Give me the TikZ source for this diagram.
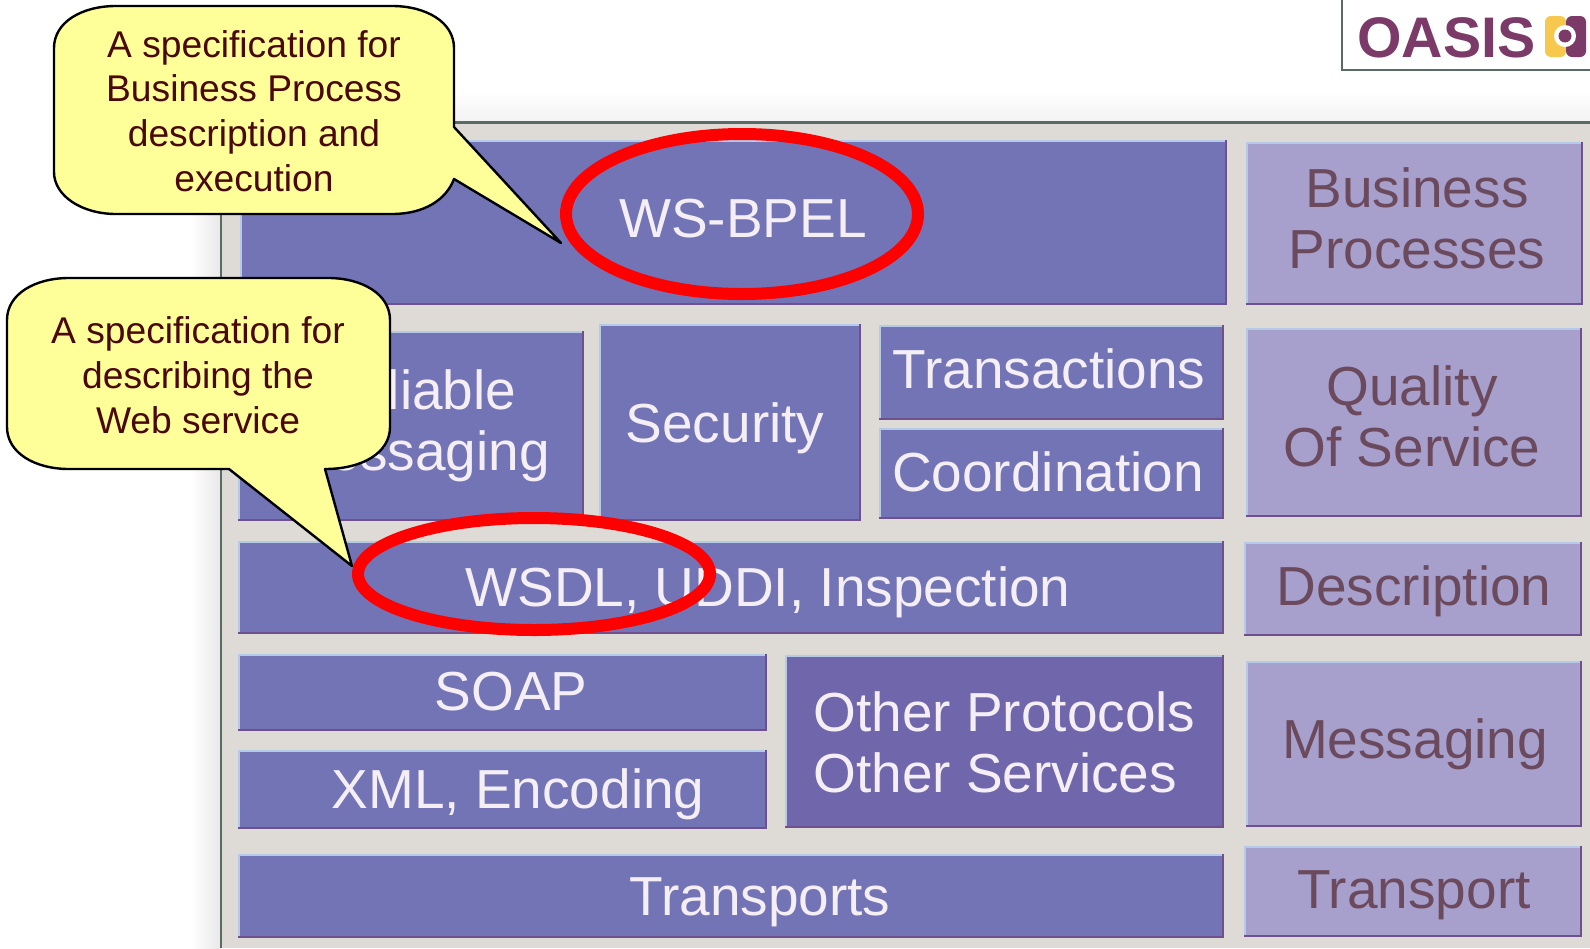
\documentclass[tikz,border=0pt]{standalone}
\usepackage{fontspec}
\setmainfont{Liberation Sans}
\usetikzlibrary{shapes.geometric}
\definecolor{panelc}{HTML}{DEDAD6}
\definecolor{darkc}{HTML}{7274B6}
\definecolor{lightc}{HTML}{A8A0CC}
\definecolor{otherc}{HTML}{7066AC}
\definecolor{hic}{HTML}{B4CAE6}
\definecolor{loc}{HTML}{6F4F8C}
\definecolor{wtext}{HTML}{F5EFF5}
\definecolor{ptext}{HTML}{6B4A5E}
\definecolor{ctext}{HTML}{4A0808}
\definecolor{oasisc}{HTML}{7B3A68}
\definecolor{oasisy}{HTML}{F7C84E}
\definecolor{edgec}{HTML}{5A6A66}
\definecolor{callc}{HTML}{FFFF99}
\newcommand{\bevelbox}[5]{% x1 y1 x2 y2 fill
  \fill[#5] (#1,#2) rectangle (#3,#4);
  \draw[hic,line width=1.2pt] (#1+1,#4) -- (#1+1,#2+1) -- (#3,#2+1);
  \draw[loc,line width=1.2pt] (#1,#4-1) -- (#3-1,#4-1) -- (#3-1,#2);
}
\tikzset{
  x=0.5pt,y=-0.5pt,
  boxtext/.style={font=\fontsize{27.5}{30.6}\selectfont,align=center,inner sep=0pt},
  onDark/.style={boxtext,text=wtext},
  onLight/.style={boxtext,text=ptext},
  calltext/.style={font=\fontsize{18.6}{22.4}\selectfont,align=center,text=ctext,inner sep=0pt},
  callout/.style={fill=callc,draw=black,line width=1.2pt,line join=round},
  redring/.style={shape=ellipse,draw=red,line width=6pt,inner sep=0pt,fill=none},
}
\begin{document}
\begin{tikzpicture}
\useasboundingbox (0,0) rectangle (1590,948);
\clip (0,0) rectangle (1590,948);
\fill[white] (0,0) rectangle (1590,948);
% panel shadow
\shade[left color=white,right color=black!9] (190,122) rectangle (221,948);
\shade[top color=white,bottom color=black!5] (221,92) rectangle (1590,122);
% panel
\fill[panelc] (221,122) rectangle (1590,948);
\draw[edgec,line width=1.2pt] (221,948) -- (221,122.5) -- (1590,122.5);
% logo
\draw[edgec,line width=1.2pt] (1342,0) -- (1342,70) -- (1590,70);
\node[anchor=base west,inner sep=0pt,font=\fontsize{28.6}{28}\selectfont\bfseries,text=oasisc] (oasis) at (1357,57) {OASIS};
\fill[oasisy,rounded corners=3pt] (1545,16) rectangle (1566,57);
\fill[oasisc,rounded corners=3pt] (1566,16) rectangle (1586,57);
\fill[white] (1565,36) circle[radius=11];
\fill[oasisc] (1565,36) circle[radius=6.5];
% boxes
\bevelbox{240}{140}{1227}{305}{darkc}
\bevelbox{1246}{142}{1583}{305}{lightc}
\bevelbox{238}{331}{584}{521}{darkc}
\bevelbox{599}{324}{861}{521}{darkc}
\bevelbox{879}{325}{1224}{420}{darkc}
\bevelbox{879}{428}{1224}{519}{darkc}
\bevelbox{1246}{328}{1582}{517}{lightc}
\bevelbox{238}{541}{1224}{634}{darkc}
\bevelbox{1244}{542}{1582}{636}{lightc}
\bevelbox{238}{654}{767}{731}{darkc}
\bevelbox{238}{750}{767}{829}{darkc}
\bevelbox{785}{655}{1224}{828}{otherc}
\bevelbox{1246}{661}{1582}{827}{lightc}
\bevelbox{238}{854}{1224}{938}{darkc}
\bevelbox{1244}{846}{1582}{937}{lightc}
% box texts
\node[onDark] (bpel) at (743,219) {WS-BPEL};
\node[onLight] (bizproc) at (1417,218) {Business\\Processes};
\node[onDark] (relmsg) at (417,426) {Reliable\\Messaging};
\node[onDark] (security) at (725,428) {Security};
\node[onDark] (trans) at (1049,369) {Transactions};
\node[onDark] (coord) at (1048,472) {Coordination};
\node[onLight] (qos) at (1412,416) {Quality\\Of Service};
\node[onDark] (wsdl) at (768,592) {WSDL, UDDI, Inspection};
\node[onLight] (descr) at (1414,591) {Description};
\node[onDark] (soap) at (511,692) {SOAP};
\node[onDark] (xml) at (518,794) {XML, Encoding};
\node[onDark,align=left,anchor=west] (other) at (813,742) {Other Protocols\\Other Services};
\node[onLight] (msg) at (1415,744) {Messaging};
\node[onDark] (transports) at (760,902) {Transports};
\node[onLight] (transport) at (1414,895) {Transport};
% rings
\node[redring,minimum width=176pt,minimum height=80pt] (ring1) at (742,214) {};
\node[redring,minimum width=176pt,minimum height=56pt] (ring2) at (534,574) {};
% callouts
\path[callout] (116,6) -- (392,6) .. controls (426,6) and (454,22) .. (454,48)
  -- (454,127) -- (561,243) -- (454,179)
  .. controls (446,200) and (424,214) .. (392,214)
  -- (116,214) .. controls (82,214) and (54,196) .. (54,172)
  -- (54,48) .. controls (54,22) and (82,6) .. (116,6) -- cycle;
\node[calltext] (call1) at (254,111) {A specification for\\Business Process\\description and\\execution};
\path[callout] (69,278) -- (328,278) .. controls (362,278) and (390,294) .. (390,320)
  -- (390,427) .. controls (390,453) and (362,469) .. (325,469)
  -- (352,566) -- (229,469) -- (69,469)
  .. controls (35,469) and (7,453) .. (7,427)
  -- (7,320) .. controls (7,294) and (35,278) .. (69,278) -- cycle;
\node[calltext] (call2) at (198,375) {A specification for\\describing the\\Web service};
\end{tikzpicture}
\end{document}
